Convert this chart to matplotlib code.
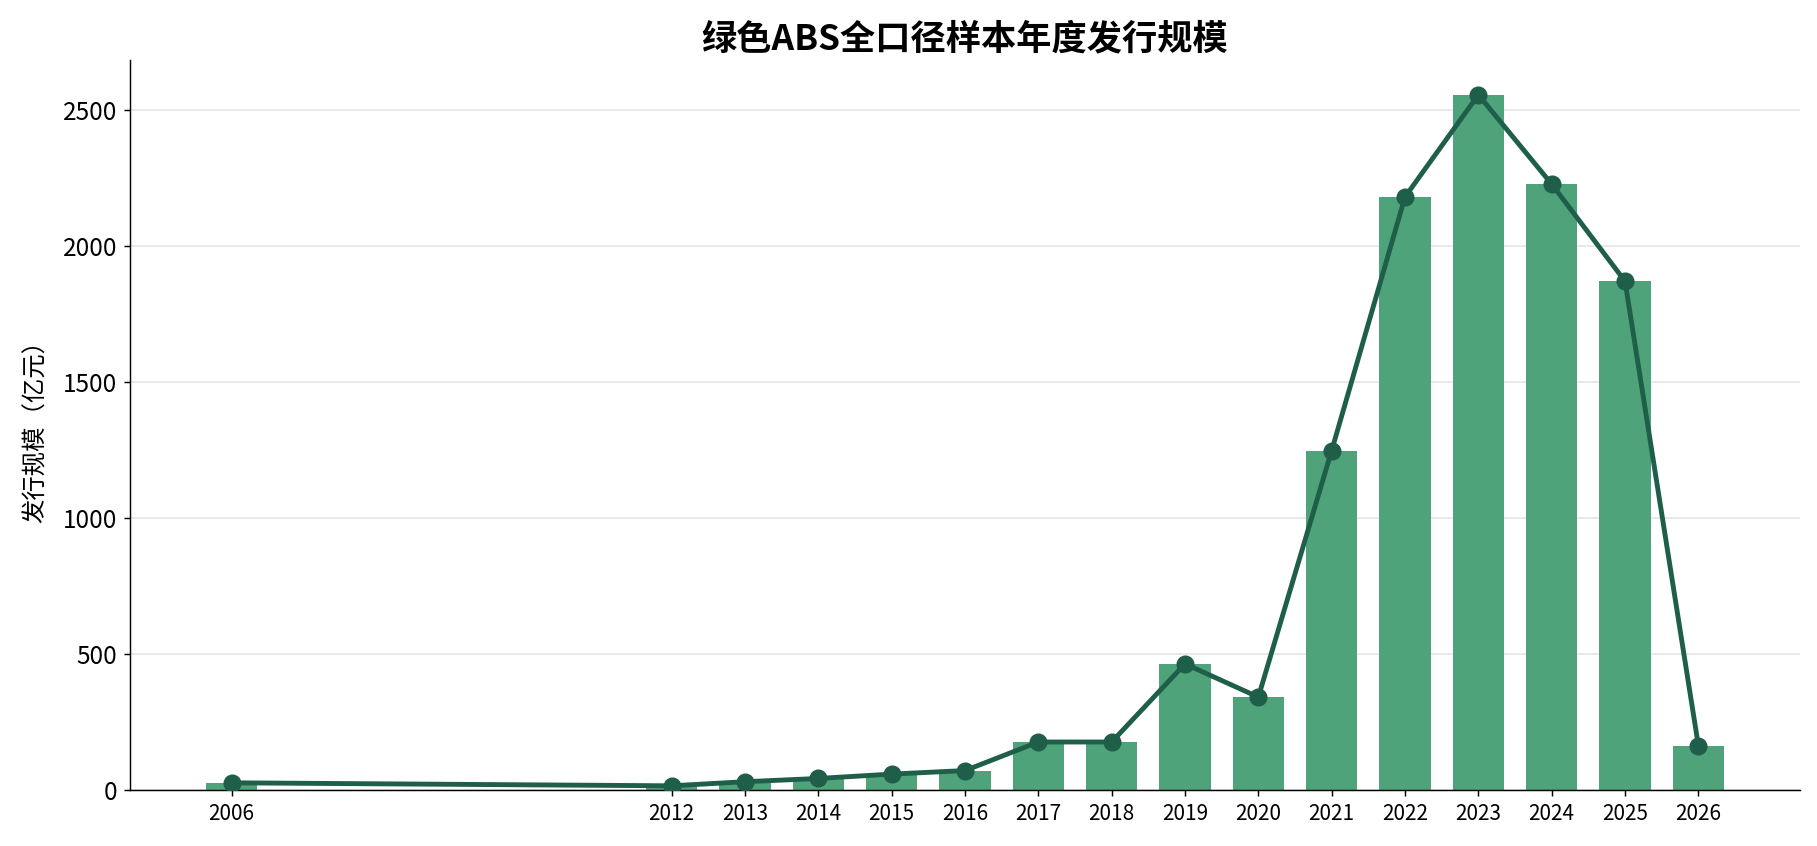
import matplotlib
matplotlib.use("Agg")
import matplotlib.pyplot as plt

plt.rcParams["font.family"] = ["Noto Sans CJK SC", "DejaVu Sans"]
plt.rcParams["axes.unicode_minus"] = False

# ------------------------------------------
# Data
# ------------------------------------------
years = [2006, 2012, 2013, 2014, 2015, 2016, 2017, 2018,
         2019, 2020, 2021, 2022, 2023, 2024, 2025, 2026]
issue_scale = [27, 16, 31, 43, 59, 72, 177, 177,
               464, 342, 1248, 2180, 2555, 2227, 1870, 164]

bar_color = "#4fa37a"
line_color = "#1f5f4a"

# ------------------------------------------
# Plot
# ------------------------------------------
fig, ax = plt.subplots(figsize=(1817 / 130, 846 / 130), dpi=130)
fig.subplots_adjust(left=0.0716, right=0.9906, bottom=0.066, top=0.929)

ax.bar(years, issue_scale, width=0.7, color=bar_color, zorder=2)
ax.plot(years, issue_scale, color=line_color, linewidth=2.7,
        marker="o", markersize=9, zorder=3)

ax.set_xticks(years)
ax.set_xticklabels([str(y) for y in years], fontsize=11.5)
ax.tick_params(axis="y", labelsize=13.5)

ax.set_title("绿色ABS全口径样本年度发行规模", fontsize=19.5, fontweight="bold")
ax.set_ylabel("发行规模（亿元）", fontsize=13.5, labelpad=8)

ax.grid(axis="y", color="#e6e6e6", linewidth=1, zorder=0)
ax.set_axisbelow(True)
ax.spines["top"].set_visible(False)
ax.spines["right"].set_visible(False)

fig.savefig("out.png", dpi=130)
